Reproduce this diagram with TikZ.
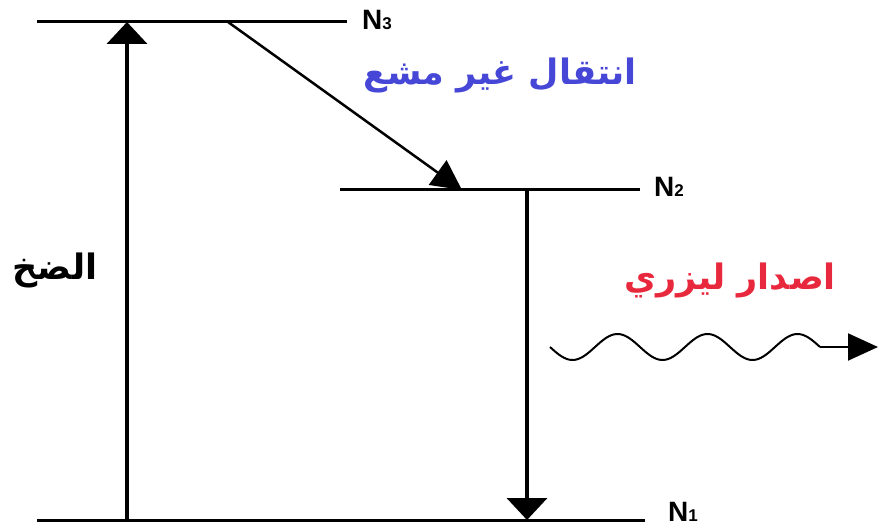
\documentclass[tikz,border=0pt]{standalone}
\usepackage{fontspec}
\setmainfont{Liberation Sans}
\newfontfamily\arabicfont[Script=Arabic]{DejaVu Sans}
\TeXXeTstate=1
\usetikzlibrary{arrows.meta}

\newcommand{\lvsub}[1]{{\fontsize{17}{18}\selectfont #1}}

\begin{document}
\begin{tikzpicture}[x=1pt,y=-1pt]

% Colours of the two coloured labels
\definecolor{transblue}{RGB}{70,70,215}
\definecolor{laserred}{RGB}{232,40,60}

\tikzset{
  level/.style={line width=3pt},
  levelname/.style={font=\bfseries\fontsize{28}{30}\selectfont, anchor=west, inner sep=0pt},
  arlabel/.style={font=\arabicfont\bfseries\fontsize{35}{38}\selectfont, inner sep=0pt},
  bigarrow/.style={line width=4pt, -{Triangle[width=40pt,length=22pt]}},
}

\useasboundingbox (0,0) rectangle (880,529);

% Energy levels
\coordinate (n3l) at (37,22);
\coordinate (n3r) at (347,22);
\coordinate (n2l) at (340,190);
\coordinate (n2r) at (640,190);
\coordinate (n1l) at (37,520);
\coordinate (n1r) at (645,520);

\draw[level] (n3l) -- (n3r);
\draw[level] (n2l) -- (n2r);
\draw[level] (n1l) -- (n1r);

\node[levelname] (N3) at (362,20) {N\lvsub{3}};
\node[levelname] (N2) at (654,187) {N\lvsub{2}};
\node[levelname] (N1) at (668,512) {N\lvsub{1}};

% Pumping
\coordinate (pumpfrom) at (127,520);
\coordinate (pumpto) at (127,22);
\draw[bigarrow] (pumpfrom) -- (pumpto);
\node[arlabel] (pump) at (55,270) {\beginR الضخ\endR};

% Non-radiative transition
\coordinate (nrfrom) at (228,22);
\coordinate (nrto) at (462,190);
\draw[line width=2.5pt, -{Triangle[width=30pt,length=30pt]}] (nrfrom) -- (nrto);
\node[arlabel, text=transblue] (nonrad) at (500,75) {\beginR انتقال غير مشع\endR};

% Laser transition
\coordinate (lasfrom) at (527,190);
\coordinate (lasto) at (527,520);
\draw[bigarrow] (lasfrom) -- (lasto);
\node[arlabel, text=laserred] (emit) at (730,280) {\beginR اصدار ليزري\endR};

% Emitted photon
\coordinate (wavestart) at (550,347);
\coordinate (waveend) at (820,347);
\coordinate (phototip) at (878,347);
\draw[line width=2pt] plot[domain=550:820, samples=120] (\x, {347+13*sin(4*(\x-550))});
\draw[line width=2pt, -{Triangle[width=27pt,length=30pt]}] (waveend) -- (phototip);

\end{tikzpicture}
\end{document}
